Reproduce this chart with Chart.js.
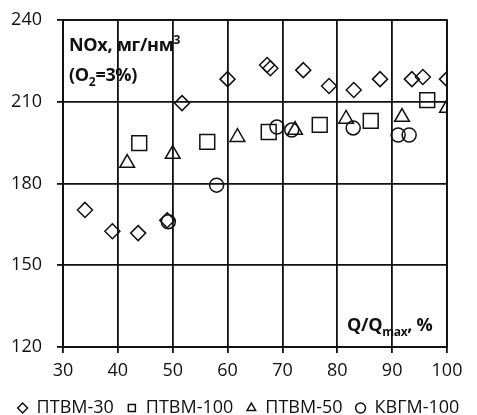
<!DOCTYPE html>
<html>
<head>
<meta charset="utf-8">
<script src="https://cdn.jsdelivr.net/npm/chart.js@4.4.1/dist/chart.umd.min.js"></script>
<style>
  body { margin: 0; background: #fff; }
  #wrap { position: relative; width: 477px; height: 415px; }
  .note { position: absolute; font-family: "Open Sans", sans-serif; font-weight: bold; color: #111; font-size: 18px; line-height: 1; white-space: nowrap; letter-spacing: -0.3px; }
  .note sub, .note sup { font-size: 12px; line-height: 0; }
</style>
</head>
<body>
<div id="wrap">
  <canvas id="chart" width="477" height="415"></canvas>
  <div class="note" style="left:69px; top:35px;">NOx, мг/нм<sup>3</sup></div>
  <div class="note" style="left:69px; top:65px;">(O<sub>2</sub>=3%)</div>
  <div class="note" style="left:347px; top:315px;">Q/Q<sub>max</sub>, %</div>
</div>
<script>
// ПТВМ-30 (diamonds)
const ptvm30X = [34, 39, 43.7, 49, 51.7, 60, 67.2, 67.8, 73.8, 78.5, 83, 87.8, 93.6, 95.6, 100];
const ptvm30Y = [170.3, 162.5, 161.8, 166.5, 209.5, 218.3, 223.5, 222.3, 221.6, 215.8, 214.3, 218.3, 218.3, 219.1, 218.3];
// ПТВМ-100 (squares)
const ptvm100X = [43.9, 56.3, 67.5, 76.8, 86.1, 96.4];
const ptvm100Y = [194.8, 195.3, 198.9, 201.5, 203, 210.6];
// ПТВМ-50 (triangles)
const ptvm50X = [41.7, 50, 61.8, 72.3, 81.6, 91.8, 100];
const ptvm50Y = [187.5, 190.8, 197, 199.6, 203.7, 204.4, 207.7];
// КВГМ-100 (circles)
const kvgmX = [49.2, 58, 69, 71.7, 82.9, 91.1, 93.1];
const kvgmY = [166, 179.4, 200.7, 199.6, 200.4, 197.8, 197.8];

const xTicks = [30, 40, 50, 60, 70, 80, 90, 100];
const yTicks = [120, 150, 180, 210, 240];

const toPoints = (xs, ys) => xs.map((x, i) => ({ x: x, y: ys[i] }));

const ink = '#111';
const font = { family: '"Open Sans", sans-serif', size: 18 };

const series = [
  { label: 'ПТВМ-30', xs: ptvm30X, ys: ptvm30Y, style: 'rectRot', r: 7.5 },
  { label: 'ПТВМ-100', xs: ptvm100X, ys: ptvm100Y, style: 'rect', r: 10.5 },
  { label: 'ПТВМ-50', xs: ptvm50X, ys: ptvm50Y, style: 'triangle', r: 8.5 },
  { label: 'КВГМ-100', xs: kvgmX, ys: kvgmY, style: 'circle', r: 7 }
];

new Chart(document.getElementById('chart').getContext('2d'), {
  type: 'scatter',
  data: {
    datasets: series.map(s => ({
      label: s.label,
      data: toPoints(s.xs, s.ys),
      pointStyle: s.style,
      pointRadius: s.r,
      pointHoverRadius: s.r,
      borderColor: ink,
      backgroundColor: 'rgba(0,0,0,0)',
      borderWidth: 1.5,
      pointBorderWidth: 1.5
    }))
  },
  options: {
    responsive: false,
    animation: false,
    events: [],
    layout: { padding: { top: 20, right: 0, left: 0, bottom: -12 } },
    plugins: {
      tooltip: { enabled: false },
      legend: {
        position: 'bottom',
        labels: {
          usePointStyle: true,
          boxWidth: 10,
          boxHeight: 7,
          padding: 13,
          color: ink,
          font: font
        }
      }
    },
    scales: {
      x: {
        type: 'linear',
        min: 30,
        max: 100,
        afterBuildTicks: axis => { axis.ticks = xTicks.map(v => ({ value: v })); },
        afterFit: axis => { axis.height = 39; axis.paddingRight = 30; },
        grid: { color: ink, lineWidth: 1.8, tickLength: 6, drawTicks: true },
        border: { color: ink, width: 1.8 },
        ticks: { color: ink, font: font, padding: 7, maxRotation: 0 }
      },
      y: {
        min: 120,
        max: 240,
        afterBuildTicks: axis => { axis.ticks = yTicks.map(v => ({ value: v })); },
        afterFit: axis => { axis.width = 63; axis.paddingTop = 0; axis.paddingBottom = 0; },
        grid: { color: ink, lineWidth: 1.8, tickLength: 6, drawTicks: true },
        border: { color: ink, width: 1.8 },
        ticks: { color: ink, font: font, padding: 15 }
      }
    }
  },
  plugins: [{
    id: 'frame',
    afterDraw(chart) {
      const a = chart.chartArea, ctx = chart.ctx;
      ctx.save();
      ctx.strokeStyle = ink;
      ctx.lineWidth = 1.8;
      ctx.strokeRect(a.left, a.top, a.right - a.left, a.bottom - a.top);
      ctx.restore();
    }
  }]
});
</script>
</body>
</html>
